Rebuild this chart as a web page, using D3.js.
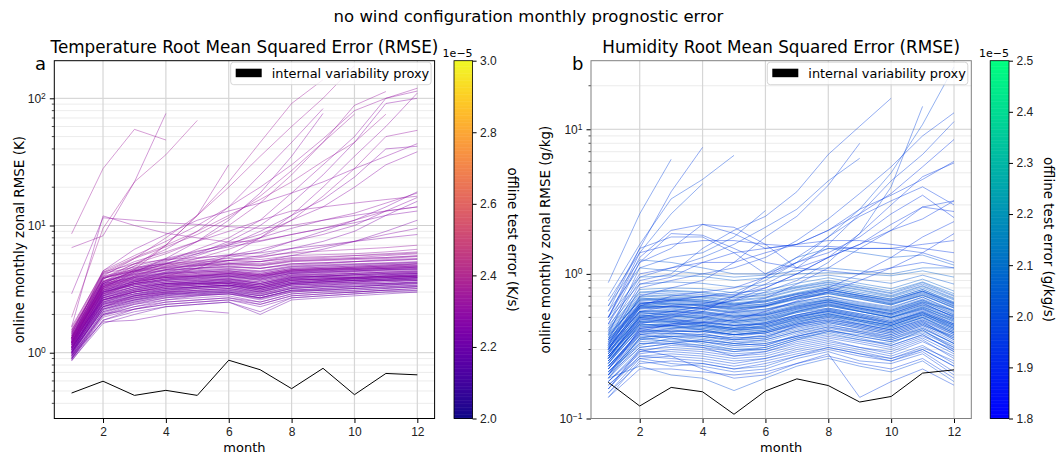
<!DOCTYPE html>
<html>
<head>
<meta charset="utf-8">
<script src="https://cdn.jsdelivr.net/npm/d3@7"></script>
<style>
  body { margin: 0; background: #fff; }
  svg { display: block; font-family: "DejaVu Sans", sans-serif; }
</style>
</head>
<body>
<div id="chart"></div>
<script>
const months = [1, 2, 3, 4, 5, 6, 7, 8, 9, 10, 11, 12];
const monthTicks = [2, 4, 6, 8, 10, 12];

// temperature runs (K), one array per run, shorter arrays = run stopped early
const tempBand = [
  [0.88, 1.9, 2.2, 2.5, 2.6, 2.7, 2.4, 2.8, 2.9, 3.0, 3.1, 3.2],
  [0.92, 2.1, 2.5, 2.8, 2.9, 3.0, 2.7, 3.1, 3.2, 3.3, 3.4, 3.4],
  [0.95, 2.3, 2.7, 3.0, 3.1, 3.2, 2.9, 3.3, 3.4, 3.5, 3.6, 3.7],
  [0.9, 2.0, 2.4, 2.6, 2.8, 2.9, 2.6, 3.0, 3.1, 3.1, 3.2, 3.3],
  [1.0, 2.5, 2.9, 3.2, 3.3, 3.4, 3.1, 3.5, 3.6, 3.7, 3.8, 3.9],
  [1.05, 2.6, 3.1, 3.4, 3.5, 3.6, 3.3, 3.8, 3.9, 3.9, 4.0, 4.1],
  [1.1, 2.8, 3.3, 3.6, 3.7, 3.8, 3.5, 4.0, 4.1, 4.2, 4.3, 4.3],
  [0.98, 2.4, 2.8, 3.1, 3.3, 3.4, 3.2, 3.6, 3.7, 3.8, 3.8, 3.9],
  [1.15, 3.0, 3.5, 3.8, 3.9, 4.0, 3.8, 4.2, 4.3, 4.4, 4.5, 4.6],
  [1.2, 3.2, 3.7, 4.0, 4.1, 4.2, 4.0, 4.4, 4.5, 4.6, 4.7, 4.8],
  [1.25, 3.4, 3.9, 4.2, 4.4, 4.5, 4.3, 4.7, 4.8, 4.9, 5.0, 5.1],
  [1.3, 3.6, 4.1, 4.4, 4.6, 4.7, 4.6, 4.9, 5.0, 5.2, 5.3, 5.4],
  [1.35, 3.9, 4.4, 4.7, 4.9, 5.0, 4.9, 5.3, 5.4, 5.5, 5.6, 5.8],
  [1.4, 4.2, 4.7, 5.0, 5.2, 5.3, 5.2, 5.6, 5.7, 5.8, 6.0, 6.2],
  [1.0, 2.2, 2.6, 2.9, 3.0, 3.1, 2.8, 3.2, 3.3, 3.4, 3.5, 3.6],
  [0.93, 2.2, 2.6, 2.8, 3.0, 3.0, 2.8, 3.2, 3.3, 3.3, 3.4, 3.5],
  [1.08, 2.7, 3.2, 3.5, 3.6, 3.7, 3.4, 3.9, 4.0, 4.0, 4.1, 4.2],
  [1.12, 2.9, 3.4, 3.7, 3.8, 3.9, 3.7, 4.1, 4.2, 4.3, 4.4, 4.4],
  [1.18, 3.1, 3.6, 3.9, 4.0, 4.1, 3.9, 4.3, 4.4, 4.5, 4.6, 4.7],
  [1.22, 3.3, 3.8, 4.1, 4.3, 4.4, 4.2, 4.6, 4.7, 4.8, 4.9, 5.0],
  [1.02, 2.5, 3.0, 3.3, 3.4, 3.5, 3.2, 3.7, 3.8, 3.8, 3.9, 4.0],
  [0.97, 2.3, 2.8, 3.0, 3.2, 3.3, 3.0, 3.4, 3.5, 3.6, 3.7, 3.8],
  [1.06, 2.6, 3.0, 3.3, 3.5, 3.6, 3.4, 3.8, 3.8, 3.9, 4.0, 4.0],
  [1.14, 2.8, 3.2, 3.5, 3.6, 3.8, 3.6, 4.0, 4.0, 4.1, 4.2, 4.2],
  [0.9, 1.8, 2.1, 2.3, 2.4, 2.5, 2.0, 2.6, 2.7, 2.8, 2.9, 3.0],
  [1.5, 3.8, 4.6, 5.0, 5.3, 5.5, 5.4, 5.8, 5.9, 6.0, 6.2, 6.5],
  [1.6, 4.3, 5.0, 5.4, 5.6, 5.8, 5.7, 6.1, 6.3, 6.5, 6.7, 7.0],
  [1.1, 3.0, 3.4, 3.6, 3.7, 3.8, 3.5, 3.9, 4.0, 4.1, 4.2, 4.3],
  [1.2, 2.9, 3.3, 3.5, 3.5, 3.6, 3.3, 3.7, 3.8, 3.9, 4.0, 4.0],
  [1.28, 3.5, 3.9, 4.2, 4.3, 4.4, 4.1, 4.5, 4.6, 4.7, 4.8, 4.9],
  [0.95, 2.0, 2.3, 2.5, 2.6, 2.7, 2.5, 2.9, 3.0, 3.1, 3.2, 3.3],
  [1.03, 2.4, 2.7, 2.9, 3.0, 3.1, 2.9, 3.3, 3.4, 3.5, 3.5, 3.6],
  [1.16, 3.0, 3.5, 3.7, 3.8, 4.0, 3.7, 4.1, 4.1, 4.2, 4.3, 4.4],
  [1.32, 3.7, 4.2, 4.5, 4.6, 4.8, 4.6, 5.0, 5.1, 5.2, 5.4, 5.5],
  [1.45, 4.0, 4.5, 4.8, 5.0, 5.1, 5.0, 5.4, 5.5, 5.6, 5.8, 6.0],
  [1.07, 2.6, 2.9, 3.1, 3.2, 3.3, 3.0, 3.4, 3.5, 3.6, 3.7, 3.7],
  [0.87, 1.7, 2.0, 2.3, 2.4, 2.5, 2.1, 2.7, 2.8, 2.9, 3.0, 3.1],
  [1.24, 3.2, 3.6, 3.9, 4.0, 4.2, 4.0, 4.3, 4.4, 4.5, 4.6, 4.6],
  [1.36, 3.5, 4.0, 4.3, 4.5, 4.6, 4.4, 4.8, 4.9, 5.0, 5.1, 5.2],
  [1.0, 2.7, 3.1, 3.4, 3.5, 3.5, 3.2, 3.6, 3.7, 3.8, 3.9, 4.0],
  [1.1, 2.5, 2.9, 3.2, 3.3, 3.4, 3.1, 3.5, 3.6, 3.7, 3.7, 3.8],
  [1.2, 3.3, 3.7, 3.9, 4.0, 4.1, 3.9, 4.4, 4.5, 4.5, 4.6, 4.7],
  [0.94, 2.1, 2.4, 2.7, 2.8, 2.9, 2.7, 3.1, 3.1, 3.2, 3.3, 3.4],
  [1.3, 3.0, 3.4, 3.7, 3.9, 4.0, 3.8, 4.2, 4.3, 4.4, 4.5, 4.5],
  [1.05, 2.8, 3.3, 3.5, 3.6, 3.7, 3.5, 3.9, 4.0, 4.1, 4.1, 4.2],
  [1.42, 3.6, 4.3, 4.6, 4.8, 4.9, 4.8, 5.2, 5.3, 5.4, 5.5, 5.7],
  [1.0, 2.3, 2.6, 2.9, 2.9, 3.0, 2.7, 3.1, 3.2, 3.3, 3.4, 3.5],
  [1.18, 2.7, 3.1, 3.4, 3.5, 3.6, 3.4, 3.8, 3.9, 3.9, 4.0, 4.1],
  [1.26, 3.4, 3.8, 4.0, 4.2, 4.3, 4.1, 4.5, 4.6, 4.6, 4.7, 4.8],
  [0.9, 2.0, 2.2, 2.4, 2.5, 2.6, 2.4, 2.8, 2.9, 3.0, 3.1, 3.1],
  [0.95, 1.75, 1.8, 2.0, 2.15, 2.05],
  [1.1, 2.4, 2.8, 3.0, 3.1, 3.2, 3.0, 3.5, 3.6, 3.7, 3.8, 3.9],
  [1.34, 3.1, 3.5, 3.8, 4.0, 4.2, 4.0, 4.4, 4.5, 4.7, 4.8, 5.0],
  [1.5, 3.9, 4.4, 4.9, 5.1, 5.3, 5.2, 5.5, 5.6, 5.8, 5.9, 6.1],
  [1.22, 2.6, 3.0, 3.2, 3.3, 3.4, 3.2, 3.6, 3.7, 3.8, 3.9, 3.9],
  [0.86, 1.8, 2.2, 2.4, 2.5, 2.6, 2.3, 2.7, 2.8, 2.9, 3.0, 3.0],
  [0.89, 1.95, 2.3, 2.6, 2.7, 2.8, 2.5, 2.9, 3.0, 3.0, 3.1, 3.2],
  [0.91, 2.05, 2.45, 2.7, 2.85, 2.95, 2.7, 3.05, 3.15, 3.2, 3.3, 3.35],
  [0.96, 2.25, 2.65, 2.95, 3.05, 3.15, 2.85, 3.25, 3.35, 3.45, 3.5, 3.55],
  [0.99, 2.35, 2.75, 3.05, 3.2, 3.3, 3.05, 3.45, 3.55, 3.6, 3.7, 3.75],
  [1.01, 2.45, 2.85, 3.15, 3.3, 3.4, 3.15, 3.55, 3.65, 3.7, 3.8, 3.85],
  [1.04, 2.55, 3.0, 3.3, 3.4, 3.5, 3.25, 3.7, 3.75, 3.85, 3.95, 4.0],
  [1.09, 2.7, 3.15, 3.45, 3.55, 3.65, 3.4, 3.85, 3.95, 4.0, 4.1, 4.15],
  [1.13, 2.85, 3.3, 3.6, 3.75, 3.85, 3.6, 4.05, 4.15, 4.2, 4.3, 4.35],
  [1.17, 2.95, 3.45, 3.75, 3.85, 3.95, 3.75, 4.2, 4.25, 4.35, 4.45, 4.5],
  [1.21, 3.1, 3.6, 3.9, 4.05, 4.15, 3.95, 4.35, 4.45, 4.55, 4.6, 4.7],
  [1.27, 3.25, 3.75, 4.05, 4.2, 4.3, 4.1, 4.5, 4.6, 4.7, 4.8, 4.85],
  [1.31, 3.45, 3.95, 4.25, 4.4, 4.55, 4.35, 4.75, 4.85, 4.95, 5.05, 5.15],
  [1.38, 3.65, 4.15, 4.45, 4.65, 4.75, 4.6, 5.0, 5.1, 5.2, 5.3, 5.45],
  [1.44, 3.85, 4.35, 4.65, 4.85, 5.0, 4.85, 5.25, 5.35, 5.5, 5.6, 5.75],
  [1.02, 2.15, 2.55, 2.85, 2.95, 3.05, 2.8, 3.2, 3.3, 3.35, 3.45, 3.55],
  [1.06, 2.3, 2.7, 2.95, 3.1, 3.2, 2.95, 3.4, 3.45, 3.55, 3.6, 3.7],
  [1.11, 2.6, 3.05, 3.35, 3.45, 3.55, 3.3, 3.75, 3.8, 3.9, 4.0, 4.05],
  [1.15, 2.75, 3.2, 3.5, 3.65, 3.75, 3.5, 3.95, 4.0, 4.1, 4.2, 4.25],
  [1.19, 3.05, 3.5, 3.8, 3.95, 4.05, 3.85, 4.25, 4.35, 4.4, 4.5, 4.55],
  [1.23, 3.15, 3.65, 3.95, 4.1, 4.25, 4.05, 4.45, 4.55, 4.6, 4.7, 4.75],
  [1.29, 3.35, 3.85, 4.15, 4.3, 4.4, 4.2, 4.6, 4.7, 4.8, 4.9, 5.0],
  [0.98, 2.2, 2.5, 2.75, 2.85, 2.9, 2.65, 3.0, 3.1, 3.2, 3.25, 3.3],
  [1.08, 2.45, 2.8, 3.1, 3.25, 3.35, 3.1, 3.5, 3.6, 3.7, 3.75, 3.8],
  [1.16, 2.65, 3.0, 3.25, 3.4, 3.5, 3.3, 3.7, 3.8, 3.85, 3.9, 4.0]
];
const tempOut = [
  [8.6, 28, 57, 47],
  [6.7, 8.3, 22, 76],
  [1.9, 9.5, 22, 36, 67],
  [2.9, 11.5, 11, 10.5, 10.2, 9.8, 9.5, 10, 11, 12.5, 15, 18],
  [1.3, 4.0, 5.5, 8, 12, 30],
  [1.2, 3.6, 4.8, 7, 12, 22, 45, 91, 140],
  [1.25, 3.8, 5.0, 6.5, 9, 14, 25, 45, 83],
  [1.1, 3.2, 4.3, 5.5, 7.5, 11, 18, 35, 76],
  [1.3, 3.9, 5, 6, 7.5, 10, 15, 25, 45, 88, 113],
  [1.2, 3.5, 4.4, 5.2, 6.5, 8, 11, 18, 30, 50, 100, 114],
  [1.15, 3.3, 4.2, 5, 6, 7.5, 10, 15, 25, 45, 91, 100],
  [1.1, 3.1, 4.0, 4.8, 5.5, 6.5, 8, 11, 17, 28, 50, 56],
  [1.2, 3.4, 4.3, 5, 5.8, 7, 9, 12, 16, 24, 40, 42],
  [1.3, 3.6, 4.6, 5.4, 6.2, 7.2, 8.5, 11, 14, 20, 30, 38],
  [1.1, 3.0, 3.9, 4.5, 5.0, 5.6, 6.2, 7.5, 9, 11, 14, 18.4],
  [1.2, 3.3, 4.1, 4.7, 5.2, 5.8, 6.5, 7.5, 8.5, 10, 13, 16.6],
  [1.05, 2.9, 3.7, 4.3, 4.8, 5.3, 5.8, 6.6, 7.5, 9, 12, 15.5],
  [1.4, 4.1, 5.2, 6.2, 7.5, 9, 11, 13, 14, 15, 16, 17],
  [1.35, 3.8, 4.8, 5.5, 6.3, 7, 8, 9.5, 11, 12, 13, 14],
  [1.25, 3.5, 4.5, 5.3, 6, 6.8, 7.5, 8.5, 9.5, 10.5, 12, 13],
  [1.5, 4.3, 5.6, 7, 9, 12, 16, 22, 32, 45, 75],
  [1.45, 4.2, 5.5, 6.8, 8.5, 11.5, 17, 27, 45, 75],
  [1.0, 2.8, 3.6, 4.2, 4.6, 5.0, 5.2, 5.8, 6.5, 7.5, 9, 11],
  [1.2, 3.2, 4.0, 4.5, 4.9, 5.3, 5.6, 6.2, 6.8, 7.5, 8.5, 9.5],
  [1.3, 3.5, 4.4, 5.1, 5.5, 5.9, 6.1, 6.6, 7.0, 7.5, 8.0, 8.5],
  [1.6, 11.9, 10, 8.7, 8.0, 7.4, 7.6, 8.5, 9.5, 11, 13, 14],
  [1.3, 4.4, 6.5, 8.5, 11, 13, 15, 18, 22, 28, 35, 44],
  [1.2, 2.9, 3.5, 4.0, 4.6, 5.8, 8, 12, 20, 35, 60, 110],
  [1.3, 3.3, 4.5, 7, 12, 20, 35, 60, 100, 180],
  [1.55, 4.4, 5.8, 7.5, 10, 14, 20, 30, 48, 80, 100, 120]
];
// offline test error (1e-5 K/s) of each temperature run
const tempBandErr = [2.24, 2.22, 2.25, 2.21, 2.26, 2.23, 2.27, 2.22, 2.25, 2.28, 2.24, 2.26, 2.29, 2.3, 2.21,
  2.23, 2.25, 2.27, 2.24, 2.26, 2.22, 2.23, 2.28, 2.25, 2.2, 2.31, 2.32, 2.24, 2.26, 2.27, 2.21, 2.23, 2.25,
  2.28, 2.3, 2.22, 2.2, 2.26, 2.29, 2.24, 2.23, 2.27, 2.21, 2.25, 2.24, 2.3, 2.22, 2.26, 2.28, 2.21, 2.23,
  2.24, 2.27, 2.31, 2.25, 2.22, 2.23, 2.24, 2.25, 2.26, 2.22, 2.27, 2.23, 2.25, 2.24, 2.26, 2.28, 2.25, 2.27,
  2.29, 2.21, 2.23, 2.24, 2.26, 2.25, 2.27, 2.28, 2.22, 2.24, 2.26];
const tempOutErr = [2.34, 2.32, 2.36, 2.3, 2.33, 2.35, 2.31, 2.29, 2.33, 2.3, 2.28, 2.32, 2.27, 2.29, 2.26,
  2.28, 2.25, 2.3, 2.27, 2.26, 2.34, 2.33, 2.25, 2.27, 2.26, 2.31, 2.29, 2.3, 2.35, 2.32];
const tempProxy = [0.482, 0.597, 0.462, 0.506, 0.462, 0.873, 0.735, 0.522, 0.754, 0.468, 0.687, 0.670];

// humidity runs (g/kg)
const humBand = [
  [0.18, 0.30, 0.31, 0.30, 0.28, 0.29, 0.33, 0.36, 0.33, 0.30, 0.36, 0.28],
  [0.20, 0.34, 0.35, 0.34, 0.32, 0.33, 0.37, 0.41, 0.37, 0.34, 0.40, 0.32],
  [0.22, 0.38, 0.39, 0.38, 0.36, 0.37, 0.42, 0.46, 0.42, 0.38, 0.45, 0.36],
  [0.24, 0.42, 0.43, 0.42, 0.40, 0.41, 0.47, 0.51, 0.46, 0.42, 0.50, 0.40],
  [0.26, 0.46, 0.47, 0.46, 0.43, 0.45, 0.51, 0.56, 0.51, 0.46, 0.55, 0.44],
  [0.28, 0.50, 0.52, 0.50, 0.47, 0.49, 0.56, 0.61, 0.56, 0.51, 0.60, 0.48],
  [0.30, 0.55, 0.57, 0.55, 0.52, 0.54, 0.61, 0.67, 0.61, 0.56, 0.66, 0.53],
  [0.33, 0.60, 0.62, 0.60, 0.56, 0.59, 0.67, 0.73, 0.67, 0.61, 0.72, 0.58],
  [0.36, 0.66, 0.68, 0.66, 0.62, 0.65, 0.73, 0.80, 0.73, 0.67, 0.78, 0.64],
  [0.40, 0.72, 0.74, 0.72, 0.68, 0.71, 0.80, 0.87, 0.80, 0.73, 0.85, 0.70],
  [0.17, 0.27, 0.28, 0.27, 0.25, 0.26, 0.30, 0.33, 0.30, 0.27, 0.32, 0.24],
  [0.15, 0.24, 0.25, 0.24, 0.22, 0.24, 0.27, 0.30, 0.27, 0.25, 0.29, 0.21],
  [0.21, 0.32, 0.36, 0.33, 0.30, 0.31, 0.36, 0.39, 0.35, 0.33, 0.41, 0.30],
  [0.23, 0.40, 0.41, 0.39, 0.35, 0.36, 0.44, 0.49, 0.44, 0.40, 0.47, 0.35],
  [0.25, 0.44, 0.45, 0.44, 0.41, 0.42, 0.49, 0.54, 0.49, 0.44, 0.52, 0.42],
  [0.27, 0.48, 0.50, 0.48, 0.45, 0.47, 0.54, 0.58, 0.53, 0.49, 0.58, 0.46],
  [0.29, 0.53, 0.54, 0.52, 0.49, 0.51, 0.58, 0.64, 0.58, 0.53, 0.63, 0.50],
  [0.31, 0.57, 0.59, 0.57, 0.54, 0.56, 0.64, 0.70, 0.63, 0.58, 0.69, 0.55],
  [0.34, 0.63, 0.65, 0.63, 0.59, 0.62, 0.70, 0.77, 0.70, 0.64, 0.75, 0.61],
  [0.38, 0.69, 0.71, 0.69, 0.65, 0.68, 0.77, 0.84, 0.77, 0.70, 0.82, 0.67],
  [0.19, 0.36, 0.34, 0.32, 0.30, 0.30, 0.35, 0.40, 0.38, 0.35, 0.42, 0.33],
  [0.22, 0.41, 0.40, 0.40, 0.38, 0.39, 0.45, 0.48, 0.45, 0.41, 0.48, 0.39],
  [0.16, 0.29, 0.32, 0.31, 0.27, 0.28, 0.32, 0.35, 0.31, 0.29, 0.35, 0.26],
  [0.44, 0.78, 0.80, 0.79, 0.74, 0.77, 0.86, 0.94, 0.86, 0.79, 0.92, 0.76],
  [0.48, 0.85, 0.88, 0.86, 0.81, 0.84, 0.93, 0.98, 0.92, 0.86, 0.98, 0.85],
  [0.26, 0.52, 0.49, 0.45, 0.42, 0.46, 0.55, 0.62, 0.55, 0.50, 0.57, 0.47],
  [0.20, 0.31, 0.33, 0.35, 0.33, 0.32, 0.38, 0.43, 0.40, 0.36, 0.43, 0.33],
  [0.23, 0.37, 0.37, 0.36, 0.33, 0.35, 0.40, 0.45, 0.40, 0.37, 0.44, 0.37],
  [0.30, 0.59, 0.60, 0.58, 0.55, 0.57, 0.62, 0.66, 0.60, 0.55, 0.64, 0.56],
  [0.35, 0.64, 0.62, 0.60, 0.57, 0.60, 0.68, 0.75, 0.69, 0.62, 0.71, 0.59],
  [0.18, 0.28, 0.30, 0.29, 0.27, 0.29, 0.34, 0.37, 0.34, 0.31, 0.37, 0.30],
  [0.27, 0.45, 0.43, 0.41, 0.38, 0.40, 0.46, 0.52, 0.47, 0.43, 0.50, 0.39],
  [0.32, 0.55, 0.55, 0.53, 0.50, 0.52, 0.59, 0.65, 0.59, 0.54, 0.64, 0.52],
  [0.24, 0.47, 0.48, 0.46, 0.44, 0.46, 0.52, 0.57, 0.52, 0.47, 0.54, 0.42],
  [0.21, 0.35, 0.37, 0.37, 0.34, 0.35, 0.40, 0.44, 0.41, 0.37, 0.44, 0.34],
  [0.37, 0.67, 0.69, 0.68, 0.63, 0.66, 0.74, 0.82, 0.75, 0.69, 0.80, 0.66],
  [0.29, 0.49, 0.51, 0.49, 0.46, 0.48, 0.55, 0.60, 0.55, 0.50, 0.59, 0.49],
  [0.17, 0.26, 0.27, 0.26, 0.24, 0.26, 0.29, 0.32, 0.29, 0.26, 0.31, 0.25],
  [0.25, 0.43, 0.44, 0.42, 0.39, 0.41, 0.47, 0.52, 0.47, 0.43, 0.51, 0.41],
  [0.42, 0.75, 0.77, 0.75, 0.71, 0.74, 0.82, 0.90, 0.83, 0.76, 0.88, 0.73],
  [0.14, 0.22, 0.22, 0.21, 0.20, 0.21, 0.24, 0.27, 0.24, 0.22, 0.26, 0.19],
  [0.15, 0.26, 0.24, 0.23, 0.21, 0.22, 0.26, 0.29, 0.25, 0.24, 0.28, 0.20],
  [0.19, 0.23, 0.20, 0.19, 0.156, 0.19, 0.23, 0.26, 0.23, 0.21, 0.25, 0.18],
  [0.16, 0.30, 0.27, 0.22, 0.19, 0.20, 0.24, 0.28, 0.14, 0.18, 0.22, 0.17],
  [0.14, 0.25, 0.23, 0.24, 0.22, 0.23, 0.27, 0.31, 0.28, 0.25, 0.30, 0.23],
  [0.50, 0.95, 0.97, 0.96, 0.90, 0.94, 1.0, 1.02, 1.0, 0.97, 1.05, 0.95],
  [0.55, 1.1, 1.05, 1.0, 0.95, 0.98, 1.05, 1.1, 1.05, 1.0, 1.1, 1.1],
  [0.60, 1.25, 1.2, 1.1, 1.0, 1.0, 1.3, 1.5, 1.4, 1.3, 1.35, 1.15],
  [0.32, 0.62, 0.66, 0.64, 0.61, 0.64, 0.72, 0.78, 0.71, 0.66, 0.76, 0.62],
  [0.28, 0.51, 0.53, 0.51, 0.47, 0.50, 0.57, 0.63, 0.57, 0.52, 0.61, 0.51],
  [0.22, 0.39, 0.42, 0.44, 0.42, 0.43, 0.50, 0.55, 0.50, 0.45, 0.53, 0.43],
  [0.19, 0.33, 0.33, 0.31, 0.29, 0.31, 0.36, 0.40, 0.36, 0.32, 0.38, 0.29],
  [0.26, 0.47, 0.46, 0.43, 0.40, 0.43, 0.48, 0.53, 0.48, 0.44, 0.53, 0.44],
  [0.31, 0.58, 0.58, 0.55, 0.51, 0.53, 0.60, 0.66, 0.60, 0.56, 0.66, 0.54],
  [0.34, 0.61, 0.63, 0.61, 0.58, 0.60, 0.68, 0.74, 0.68, 0.62, 0.73, 0.60],
  [0.38, 0.65, 0.66, 0.65, 0.61, 0.64, 0.72, 0.78, 0.71, 0.65, 0.76, 0.63],
  [0.24, 0.42, 0.44, 0.43, 0.41, 0.42, 0.48, 0.53, 0.48, 0.44, 0.52, 0.41],
  [0.20, 0.36, 0.38, 0.37, 0.35, 0.36, 0.41, 0.46, 0.42, 0.38, 0.45, 0.35],
  [0.27, 0.50, 0.48, 0.47, 0.44, 0.45, 0.52, 0.58, 0.53, 0.48, 0.57, 0.45],
  [0.23, 0.39, 0.39, 0.37, 0.35, 0.38, 0.43, 0.47, 0.43, 0.39, 0.46, 0.37],
  [0.19, 0.31, 0.33, 0.32, 0.29, 0.30, 0.35, 0.38, 0.35, 0.32, 0.38, 0.29],
  [0.21, 0.35, 0.37, 0.35, 0.33, 0.34, 0.39, 0.43, 0.39, 0.36, 0.42, 0.33],
  [0.23, 0.40, 0.40, 0.40, 0.37, 0.39, 0.44, 0.48, 0.44, 0.40, 0.47, 0.38],
  [0.25, 0.44, 0.46, 0.44, 0.42, 0.43, 0.49, 0.53, 0.48, 0.44, 0.52, 0.42],
  [0.27, 0.47, 0.49, 0.47, 0.44, 0.46, 0.52, 0.57, 0.52, 0.47, 0.56, 0.45],
  [0.29, 0.51, 0.53, 0.51, 0.48, 0.50, 0.57, 0.62, 0.57, 0.52, 0.61, 0.49],
  [0.31, 0.55, 0.56, 0.54, 0.51, 0.53, 0.60, 0.66, 0.60, 0.55, 0.65, 0.52],
  [0.33, 0.58, 0.60, 0.58, 0.54, 0.57, 0.64, 0.70, 0.64, 0.59, 0.69, 0.56],
  [0.35, 0.62, 0.64, 0.62, 0.58, 0.61, 0.69, 0.75, 0.69, 0.63, 0.74, 0.60],
  [0.37, 0.66, 0.67, 0.66, 0.62, 0.65, 0.73, 0.80, 0.73, 0.67, 0.78, 0.63],
  [0.20, 0.38, 0.36, 0.34, 0.31, 0.32, 0.37, 0.42, 0.39, 0.35, 0.41, 0.31],
  [0.22, 0.36, 0.39, 0.38, 0.36, 0.37, 0.43, 0.47, 0.43, 0.39, 0.46, 0.36],
  [0.24, 0.45, 0.44, 0.41, 0.38, 0.40, 0.46, 0.51, 0.47, 0.42, 0.50, 0.40],
  [0.26, 0.43, 0.45, 0.46, 0.44, 0.45, 0.51, 0.55, 0.50, 0.46, 0.54, 0.45],
  [0.28, 0.54, 0.52, 0.49, 0.46, 0.48, 0.54, 0.60, 0.55, 0.50, 0.58, 0.47],
  [0.30, 0.52, 0.55, 0.54, 0.51, 0.52, 0.59, 0.64, 0.58, 0.53, 0.62, 0.51],
  [0.32, 0.60, 0.59, 0.57, 0.53, 0.55, 0.63, 0.68, 0.62, 0.57, 0.67, 0.55],
  [0.34, 0.59, 0.62, 0.61, 0.57, 0.60, 0.67, 0.73, 0.67, 0.61, 0.71, 0.58],
  [0.36, 0.68, 0.66, 0.64, 0.60, 0.62, 0.70, 0.77, 0.71, 0.65, 0.76, 0.62],
  [0.18, 0.29, 0.29, 0.28, 0.26, 0.27, 0.31, 0.34, 0.31, 0.28, 0.34, 0.27],
  [0.16, 0.27, 0.26, 0.25, 0.23, 0.25, 0.28, 0.31, 0.28, 0.26, 0.30, 0.23],
  [0.21, 0.33, 0.34, 0.34, 0.32, 0.33, 0.37, 0.41, 0.37, 0.34, 0.39, 0.31],
  [0.25, 0.41, 0.42, 0.41, 0.38, 0.40, 0.45, 0.50, 0.45, 0.41, 0.49, 0.39],
  [0.27, 0.46, 0.47, 0.45, 0.42, 0.44, 0.50, 0.55, 0.50, 0.45, 0.54, 0.43],
  [0.29, 0.50, 0.51, 0.50, 0.47, 0.49, 0.55, 0.61, 0.55, 0.50, 0.59, 0.48],
  [0.31, 0.54, 0.55, 0.53, 0.50, 0.52, 0.58, 0.64, 0.58, 0.53, 0.63, 0.50],
  [0.39, 0.70, 0.72, 0.70, 0.66, 0.69, 0.78, 0.85, 0.78, 0.71, 0.83, 0.68],
  [0.41, 0.74, 0.76, 0.74, 0.69, 0.72, 0.81, 0.88, 0.81, 0.74, 0.87, 0.71],
  [0.23, 0.38, 0.41, 0.40, 0.38, 0.39, 0.45, 0.50, 0.45, 0.41, 0.48, 0.38],
  [0.26, 0.49, 0.47, 0.44, 0.41, 0.44, 0.50, 0.56, 0.51, 0.46, 0.55, 0.44]
];
const humOut = [
  [0.87, 2.6, 6.2],
  [0.55, 1.5, 3.7, 7.5],
  [0.7, 1.6, 3.3, 4.5, 6.6],
  [0.5, 1.3, 2.0, 2.2, 2.1, 1.6, 1.1, 1.3, 1.6, 2.0, 2.4, 3.2],
  [0.4, 0.9, 1.0, 1.5, 2.0, 2.5, 3.7, 6.7, 10.5, 16.4],
  [0.3, 0.7, 0.8, 0.9, 1.2, 1.8, 2.5, 4.1, 8.0],
  [0.35, 0.6, 0.65, 0.7, 0.75, 0.9, 1.2, 1.8, 2.8, 5.0, 10.8, 27],
  [0.3, 0.55, 0.6, 0.62, 0.7, 0.85, 1.1, 1.6, 2.6, 4.4, 6.7, 11.3],
  [0.33, 0.62, 0.66, 0.7, 0.72, 0.8, 1.0, 1.3, 1.9, 3.0, 4.7, 5.85],
  [0.28, 0.58, 0.6, 0.58, 0.6, 0.68, 0.85, 1.1, 1.5, 2.0, 2.9, 3.2],
  [0.26, 0.5, 0.55, 0.6, 0.65, 0.75, 0.9, 1.2, 1.9, 4.0, 14.4],
  [0.45, 1.0, 1.1, 1.2, 1.2, 1.4, 1.6, 2.0, 2.6, 3.6, 5.5, 8.5],
  [0.6, 1.5, 1.8, 1.8, 1.4, 1.0, 1.2, 1.5, 1.5, 1.5, 1.4, 1.2],
  [0.5, 1.4, 1.6, 1.7, 1.7, 1.6, 1.55, 1.55, 1.5, 1.5, 1.6, 1.7],
  [0.45, 1.2, 1.5, 2.2, 1.9, 1.5, 1.6, 2.0, 2.8, 3.5, 4.5, 6.0],
  [0.38, 1.1, 1.3, 1.4, 1.8, 2.74],
  [0.32, 0.8, 0.9, 1.0, 1.1, 1.3, 1.7, 2.4, 3.6, 5.5, 9, 13],
  [0.42, 0.95, 1.1, 1.3, 1.6, 2.1, 2.8, 4.4, 6.3],
  [0.3, 0.6, 0.7, 0.75, 0.8, 0.95, 1.2, 1.4, 1.8, 2.6, 3.5, 2.45],
  [0.27, 0.48, 0.52, 0.58, 0.66, 0.8, 1.0, 1.3, 1.6, 2.2, 2.9, 2.7],
  [0.5, 1.2, 1.9, 1.85, 1.5, 1.2, 1.1, 1.05, 1.0, 1.1, 1.2, 1.1],
  [0.35, 0.85, 0.95, 1.2, 1.4, 1.5, 1.6, 1.7, 1.7, 1.6, 1.5, 1.4],
  [0.65, 1.4, 2.6, 4.2],
  [0.25, 0.45, 0.5, 0.55, 0.7, 0.95, 1.3, 1.8, 2.5, 3.2, 4.0, 3.0],
  [0.22, 0.4, 0.45, 0.5, 0.55, 0.6, 0.7, 0.8, 1.0, 1.3, 1.8, 2.3],
  [0.2, 0.42, 0.44, 0.46, 0.48, 0.55, 0.65, 0.75, 0.9, 1.1, 1.4, 1.9]
];
// offline test error (1e-5 g/kg/s) of each humidity run
const humBandErr = [2.0, 2.02, 1.99, 2.03, 2.01, 2.04, 2.0, 2.02, 2.05, 2.01, 1.99, 1.97, 2.03, 2.0, 2.02,
  2.04, 2.01, 2.03, 1.99, 2.05, 2.02, 2.0, 1.98, 2.06, 2.03, 2.01, 1.99, 2.02, 2.04, 2.0, 1.97, 2.03, 2.01,
  2.02, 1.99, 2.04, 2.0, 1.98, 2.02, 2.05, 1.96, 1.99, 2.01, 1.97, 2.0, 2.06, 2.04, 2.03, 2.02, 2.01, 2.0,
  1.99, 2.03, 2.02, 2.04, 2.01, 2.0, 2.02, 1.99, 2.01, 2.01, 2.02, 2.0, 2.03, 2.01, 2.02, 2.04, 2.0, 2.03,
  2.02, 1.99, 2.01, 2.02, 2.0, 2.03, 2.01, 2.02, 2.04, 2.03, 1.99, 1.98, 2.0, 2.01, 2.02, 2.03, 2.01, 2.04,
  2.05, 2.0, 2.02];
const humOutErr = [1.98, 1.96, 1.99, 1.95, 1.97, 1.96, 2.0, 1.97, 1.95, 1.96, 1.98, 1.94, 1.97, 1.95, 1.96,
  1.99, 1.97, 1.98, 1.95, 1.94, 1.96, 1.95, 1.99, 1.96, 1.95, 1.94];
const humProxy = [0.178, 0.122, 0.164, 0.153, 0.107, 0.155, 0.188, 0.169, 0.130, 0.142, 0.206, 0.217];

const winter = d3.interpolateRgb('#0000ff', '#00ff80');

const W = 1057, H = 456;
const svg = d3.select('#chart').append('svg')
  .attr('width', W)
  .attr('height', H);

svg.append('text')
  .attr('x', W / 2)
  .attr('y', 22)
  .attr('text-anchor', 'middle')
  .attr('font-size', '16.5px')
  .text('no wind configuration monthly prognostic error');

function drawPanel(cfg) {
  const box = cfg.box;
  const x = d3.scaleLinear().domain([0.45, 12.55]).range([box.left, box.right]);
  const y = d3.scaleLog().domain(cfg.yDomain).range([box.bottom, box.top]);
  const g = svg.append('g');

  const clipId = 'clip-' + cfg.letter;
  svg.append('clipPath').attr('id', clipId)
    .append('rect')
    .attr('x', box.left).attr('y', box.top)
    .attr('width', box.right - box.left).attr('height', box.bottom - box.top);

  // grid, minor first
  const minors = [];
  const majors = [];
  for (let e = -2; e <= 3; e++) {
    for (let k = 1; k < 10; k++) {
      const v = k * Math.pow(10, e);
      if (v < cfg.yDomain[0] * 0.999 || v > cfg.yDomain[1]) continue;
      if (k === 1) majors.push(v); else minors.push(v);
    }
  }
  g.selectAll('.minor-grid').data(minors).enter().append('line')
    .attr('x1', box.left).attr('x2', box.right)
    .attr('y1', d => y(d)).attr('y2', d => y(d))
    .attr('stroke', '#e4e4e4').attr('stroke-width', 0.7);
  g.selectAll('.major-grid').data(majors).enter().append('line')
    .attr('x1', box.left).attr('x2', box.right)
    .attr('y1', d => y(d)).attr('y2', d => y(d))
    .attr('stroke', '#cfcfcf').attr('stroke-width', 1);
  g.selectAll('.x-grid').data(monthTicks).enter().append('line')
    .attr('x1', d => x(d)).attr('x2', d => x(d))
    .attr('y1', box.top).attr('y2', box.bottom)
    .attr('stroke', '#d6d6d6').attr('stroke-width', 1.2);

  const line = d3.line()
    .x((d, i) => x(months[i]))
    .y(d => y(d));

  const runs = g.append('g').attr('clip-path', 'url(#' + clipId + ')');
  const all = cfg.band.map((r, i) => ({ vals: r, err: cfg.bandErr[i] }))
    .concat(cfg.out.map((r, i) => ({ vals: r, err: cfg.outErr[i] })));
  runs.selectAll('path.run').data(all).enter().append('path')
    .attr('class', 'run')
    .attr('d', d => line(d.vals))
    .attr('fill', 'none')
    .attr('stroke', d => cfg.cmap((d.err - cfg.cDomain[0]) / (cfg.cDomain[1] - cfg.cDomain[0])))
    .attr('stroke-opacity', 0.5)
    .attr('stroke-width', 0.85);

  runs.append('path')
    .attr('d', line(cfg.proxy))
    .attr('fill', 'none')
    .attr('stroke', '#000')
    .attr('stroke-width', 1);

  // axes
  const xAxis = g.append('g')
    .attr('transform', 'translate(0,' + box.bottom + ')')
    .call(d3.axisBottom(x).tickValues(monthTicks).tickSize(4.5).tickPadding(4).tickSizeOuter(0));
  xAxis.select('.domain').remove();
  xAxis.selectAll('text').attr('font-size', '12px').attr('fill', '#222');

  const yAxis = g.append('g')
    .attr('transform', 'translate(' + box.left + ',0)')
    .call(d3.axisLeft(y).tickValues(majors).tickSize(4.5).tickPadding(4).tickFormat(''));
  yAxis.select('.domain').remove();
  yAxis.selectAll('.tick text').each(function (d) {
    const t = d3.select(this).attr('font-size', '12px').attr('fill', '#222');
    t.append('tspan').text('10');
    t.append('tspan').attr('dy', '-0.45em').attr('font-size', '8.5px')
      .text(String(Math.round(Math.log10(d))).replace('-', '\u2212'));
  });
  g.selectAll('.minor-tick').data(minors).enter().append('line')
    .attr('x1', box.left - 2.5).attr('x2', box.left)
    .attr('y1', d => y(d)).attr('y2', d => y(d))
    .attr('stroke', '#000').attr('stroke-width', 0.7);

  g.append('rect')
    .attr('x', box.left).attr('y', box.top)
    .attr('width', box.right - box.left).attr('height', box.bottom - box.top)
    .attr('fill', 'none')
    .attr('stroke', cfg.spine).attr('stroke-width', 1);

  g.append('text')
    .attr('x', (box.left + box.right) / 2)
    .attr('y', 452)
    .attr('text-anchor', 'middle')
    .attr('font-size', '13px')
    .text('month');

  g.append('text')
    .attr('transform', 'translate(' + cfg.yLabelX + ',' + (box.top + box.bottom) / 2 + ') rotate(-90)')
    .attr('text-anchor', 'middle')
    .attr('font-size', '13.5px')
    .text(cfg.yLabel);

  g.append('text')
    .attr('x', (box.left + box.right) / 2)
    .attr('y', 53)
    .attr('text-anchor', 'middle')
    .attr('font-size', '16.8px')
    .text(cfg.title);

  g.append('text')
    .attr('x', cfg.letterX)
    .attr('y', 70)
    .attr('font-size', '18px')
    .text(cfg.letter);

  // legend
  const lg = g.append('g').attr('transform', 'translate(' + cfg.legendX + ',' + (box.top + 1.5) + ')');
  lg.append('rect')
    .attr('width', box.right - 3.5 - cfg.legendX).attr('height', 22.5)
    .attr('rx', 3)
    .attr('fill', '#fff').attr('fill-opacity', 0.8)
    .attr('stroke', '#cccccc').attr('stroke-width', 0.8);
  lg.append('rect')
    .attr('x', 5).attr('y', 6.5).attr('width', 26).attr('height', 8.5)
    .attr('fill', '#000');
  lg.append('text')
    .attr('x', 41).attr('y', 15.5)
    .attr('font-size', '12.9px')
    .text('internal variability proxy');

  // colorbar
  const cb = cfg.cbar;
  const cy = d3.scaleLinear().domain(cfg.cDomain).range([box.bottom, box.top]);
  const steps = d3.range(0, 256);
  g.selectAll('.cb').data(steps).enter().append('rect')
    .attr('x', cb.left)
    .attr('width', cb.right - cb.left)
    .attr('y', d => box.bottom - (d + 1) * (box.bottom - box.top) / 256)
    .attr('height', (box.bottom - box.top) / 256 + 0.5)
    .attr('fill', d => cfg.cmap(d / 255));
  g.append('rect')
    .attr('x', cb.left).attr('y', box.top)
    .attr('width', cb.right - cb.left).attr('height', box.bottom - box.top)
    .attr('fill', 'none').attr('stroke', '#000').attr('stroke-width', 0.8);
  const cAxis = g.append('g')
    .attr('transform', 'translate(' + cb.right + ',0)')
    .call(d3.axisRight(cy).tickValues(cfg.cTicks).tickFormat(d3.format('.1f')).tickSize(4).tickPadding(3.5));
  cAxis.select('.domain').remove();
  cAxis.selectAll('text').attr('font-size', '12px').attr('fill', '#222');

  g.append('text')
    .attr('x', cb.right).attr('y', 56.5)
    .attr('text-anchor', 'end')
    .attr('font-size', '11px')
    .text('1e\u22125');

  g.append('text')
    .attr('transform', 'translate(' + cfg.cLabelX + ',' + (box.top + box.bottom) / 2 + ') rotate(90)')
    .attr('text-anchor', 'middle')
    .attr('font-size', '13.5px')
    .text(cfg.cLabel);
}

drawPanel({
  letter: 'a',
  letterX: 35,
  box: { left: 54.3, right: 434.6, top: 60.7, bottom: 418.5 },
  yDomain: [0.304, 197.5],
  band: tempBand, bandErr: tempBandErr,
  out: tempOut, outErr: tempOutErr,
  proxy: tempProxy,
  cmap: d3.interpolatePlasma,
  cDomain: [2.0, 3.0],
  cTicks: [2.0, 2.2, 2.4, 2.6, 2.8, 3.0],
  spine: '#000',
  title: 'Temperature Root Mean Squared Error (RMSE)',
  yLabel: 'online monthly zonal RMSE (K)',
  yLabelX: 23.5,
  legendX: 230.7,
  cbar: { left: 454, right: 472.6 },
  cLabel: 'offline test error (K/s)',
  cLabelX: 508
});

drawPanel({
  letter: 'b',
  letterX: 572,
  box: { left: 591, right: 971.3, top: 60.7, bottom: 418.5 },
  yDomain: [0.1, 29.8],
  band: humBand, bandErr: humBandErr,
  out: humOut, outErr: humOutErr,
  proxy: humProxy,
  cmap: winter,
  cDomain: [1.8, 2.5],
  cTicks: [1.8, 1.9, 2.0, 2.1, 2.2, 2.3, 2.4, 2.5],
  spine: '#808080',
  title: 'Humidity Root Mean Squared Error (RMSE)',
  yLabel: 'online monthly zonal RMSE (g/kg)',
  yLabelX: 550,
  legendX: 767.3,
  cbar: { left: 990.2, right: 1009 },
  cLabel: 'offline test error (g/kg/s)',
  cLabelX: 1044
});
</script>
</body>
</html>
